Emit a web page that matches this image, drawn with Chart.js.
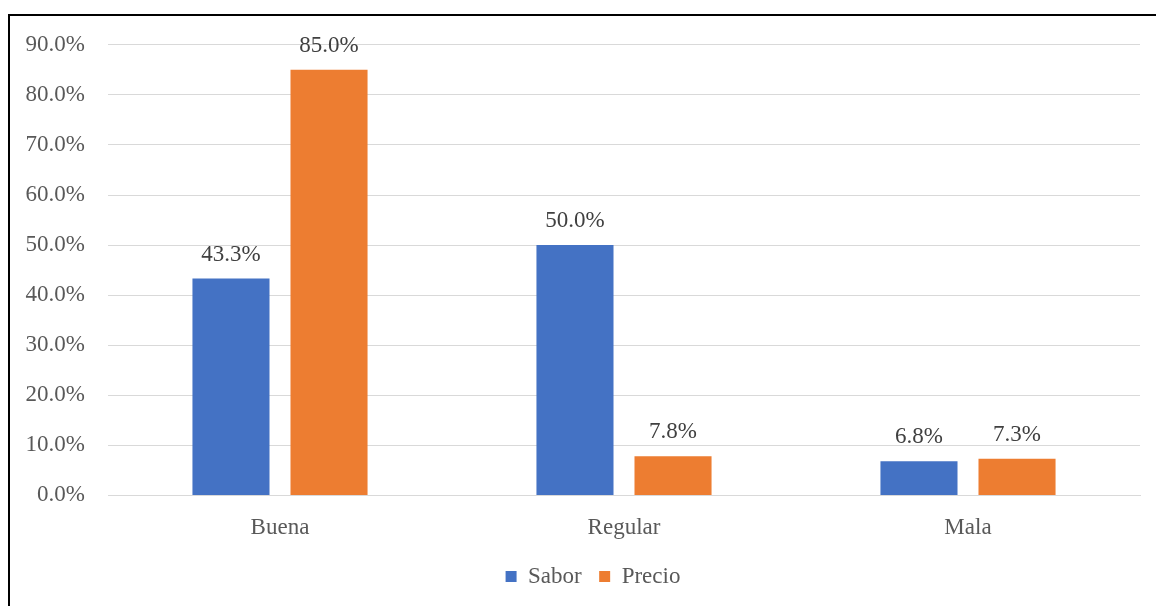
<!DOCTYPE html>
<html>
<head>
<meta charset="utf-8">
<script src="https://cdn.jsdelivr.net/npm/chart.js@4"></script>
<style>
  html, body { margin: 0; padding: 0; background: #fff; overflow: hidden; }
  #frame {
    position: absolute; left: 8px; top: 14px;
    width: 1148px; height: 592px;
    border-left: 2px solid #000; border-top: 2px solid #000;
    box-sizing: border-box;
  }
  #chart { position: absolute; left: 10px; top: 8px; display: block; }
</style>
</head>
<body>
<div id="frame"></div>
<canvas id="chart" width="1146" height="598"></canvas>
<script>
const categories = ["Buena", "Regular", "Mala"];
const seriesNames = ["Sabor", "Precio"];
const saborValues = [43.3, 50.0, 6.8];
const precioValues = [85.0, 7.8, 7.3];
const yTicks = [0, 10, 20, 30, 40, 50, 60, 70, 80, 90];

const FONT = "'Liberation Serif', 'Times New Roman', serif";
const TEXT = "#595959";
const SIZE = 23;

// value labels drawn above each bar
const valueLabels = {
  id: "valueLabels",
  afterLayout(chart) {
    // nudge legend right a bit, like the original
    chart.legend.left += 18;
    chart.legend.right += 18;
  },
  afterDatasetsDraw(chart) {
    const ctx = chart.ctx;
    ctx.save();
    ctx.font = SIZE + "px " + FONT;
    ctx.fillStyle = "#404040";
    ctx.textAlign = "center";
    ctx.textBaseline = "middle";
    chart.data.datasets.forEach((ds, i) => {
      chart.getDatasetMeta(i).data.forEach((bar, j) => {
        ctx.fillText(ds.data[j].toFixed(1) + "%", bar.x, bar.y - 24);
      });
    });
    ctx.restore();
  }
};

new Chart(document.getElementById("chart").getContext("2d"), {
  type: "bar",
  data: {
    labels: categories,
    datasets: [
      { label: seriesNames[0], data: saborValues, backgroundColor: "#4472c4",
        categoryPercentage: 0.57, barPercentage: 0.786 },
      { label: seriesNames[1], data: precioValues, backgroundColor: "#ed7d31",
        categoryPercentage: 0.57, barPercentage: 0.786 },
    ],
  },
  options: {
    responsive: false,
    animation: false,
    layout: { padding: { top: 14, right: 16, left: 0, bottom: 8 } },
    scales: {
      x: {
        grid: { display: false, drawTicks: false },
        border: { color: "#d9d9d9" },
        ticks: { color: TEXT, font: { family: FONT, size: SIZE }, padding: 19 },
      },
      y: {
        min: 0, max: 90,
        afterFit(scale) { scale.width = 98; },
        afterBuildTicks(scale) { scale.ticks = yTicks.map(v => ({ value: v })); },
        grid: { color: "#d9d9d9", drawTicks: false },
        border: { display: false },
        ticks: {
          color: TEXT, font: { family: FONT, size: SIZE }, padding: 23,
          callback: v => v.toFixed(1) + "%",
        },
      },
    },
    plugins: {
      legend: {
        position: "bottom",
        labels: {
          color: TEXT, font: { family: FONT, size: SIZE },
          boxWidth: 11, boxHeight: 11, padding: 4,
          // extra gap after the first item
          generateLabels: chart =>
            Chart.defaults.plugins.legend.labels.generateLabels(chart)
              .map((l, i) => i === 0 ? { ...l, text: l.text + "\u2002\u200A" } : l),
        },
      },
      tooltip: { enabled: false },
    },
  },
  plugins: [valueLabels],
});
</script>
</body>
</html>
